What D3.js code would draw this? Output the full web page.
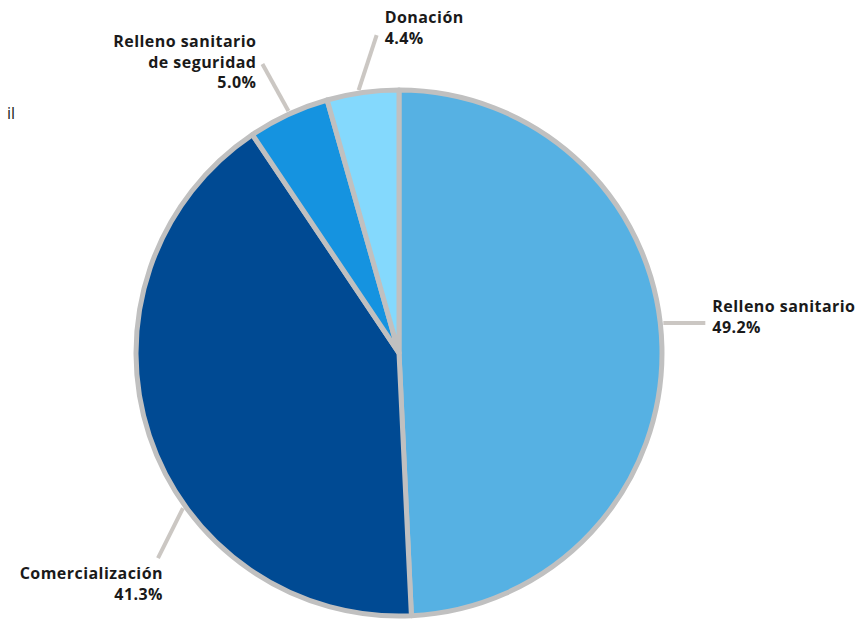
<!DOCTYPE html>
<html lang="es">
<head>
<meta charset="UTF-8">
<title>Destino de residuos</title>
<script src="https://d3js.org/d3.v7.min.js"></script>
<style>
    html, body { margin: 0; padding: 0; background: #fff; }
    body { font-family: 'Open Sans', 'Noto Sans', sans-serif; }
    .lbl { font-size: 16px; font-weight: 700; fill: #1a1a1a; letter-spacing: 0.45px; }
    .connector { stroke: #cbc7c3; stroke-width: 4; fill: none; }
</style>
</head>
<body>
<svg id="chart" width="867" height="619"></svg>
<script>
    // Data
    const categories = ["Relleno sanitario", "Comercialización", "Relleno sanitario de seguridad", "Donación"];
    const labelLines = [["Relleno sanitario"], ["Comercialización"], ["Relleno sanitario", "de seguridad"], ["Donación"]];
    const values = [49.2, 41.3, 5.0, 4.4];
    const colors = ["#56b1e3", "#004a93", "#1593e0", "#84d9fd"];

    // Label layout (where each connector leaves the rim and where the text sits)
    const layout = [
        { shift: -5.1, vec: [42, 0],    anchor: "start", dx: 7,  dy: -11 },
        { shift: -17.4, vec: [-25, 50], anchor: "end",   dx: 5,  dy: 21 },
        { shift: 0.3,  vec: [-26, -47], anchor: "end",   dx: -6, dy: -17 },
        { shift: -0.8, vec: [18, -55],  anchor: "start", dx: 8,  dy: -12 }
    ];

    const svg = d3.select("#chart");
    const cx = 399, cy = 353, r = 263;

    const pie = d3.pie().sort(null).value(d => d)(values);
    const arc = d3.arc().innerRadius(0).outerRadius(r);

    const g = svg.append("g").attr("transform", `translate(${cx},${cy})`);

    g.selectAll("path.slice")
        .data(pie)
        .join("path")
        .attr("class", "slice")
        .attr("d", arc)
        .attr("fill", (d, i) => colors[i])
        .attr("stroke", "#c0c0c0")
        .attr("stroke-width", 5)
        .attr("stroke-linejoin", "round");

    // Connectors and labels
    const rimR = r + 3;
    pie.forEach((d, i) => {
        const L = layout[i];
        const a = (d.startAngle + d.endAngle) / 2 + L.shift * Math.PI / 180;
        const x0 = rimR * Math.sin(a), y0 = -rimR * Math.cos(a);
        const x1 = x0 + L.vec[0], y1 = y0 + L.vec[1];

        g.append("line")
            .attr("class", "connector")
            .attr("x1", x0).attr("y1", y0)
            .attr("x2", x1).attr("y2", y1);

        const lines = labelLines[i].concat([d3.format(".1f")(values[i]) + "%"]);
        const t = g.append("text")
            .attr("class", "lbl")
            .attr("text-anchor", L.anchor)
            .attr("x", x1 + L.dx)
            .attr("y", y1 + L.dy);
        lines.forEach((s, k) => {
            t.append("tspan")
                .attr("x", x1 + L.dx)
                .attr("dy", k === 0 ? 0 : 20.5)
                .text(s);
        });
    });

    // leftover text clipped at the left edge
    svg.append("text")
        .attr("x", 15).attr("y", 119)
        .attr("text-anchor", "end")
        .style("font-size", "16px")
        .style("fill", "#222")
        .text("il");
</script>
</body>
</html>
